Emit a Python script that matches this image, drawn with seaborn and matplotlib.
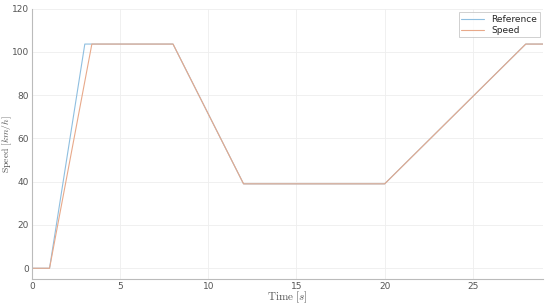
import numpy as np
import pandas as pd
import matplotlib
matplotlib.use("Agg")
import matplotlib.pyplot as plt
import seaborn as sns

# Datos
t_ref = [0, 1, 3.0, 8, 12, 20, 28, 29]
v_ref = [0, 0, 103.6, 103.6, 39, 39, 103.6, 103.6]
t_spd = [0, 1, 3.4, 8, 12, 20, 28, 29]
v_spd = [0, 0, 103.6, 103.6, 39, 39, 103.6, 103.6]

df = pd.concat([
    pd.DataFrame({"t": t_ref, "v": v_ref, "serie": "Reference"}),
    pd.DataFrame({"t": t_spd, "v": v_spd, "serie": "Speed"}),
])

sns.set_style("white")
plt.rcParams["font.family"] = ["DejaVu Sans"]
plt.rcParams["mathtext.fontset"] = "cm"

fig, ax = plt.subplots(figsize=(5.5, 3.06), dpi=100)
sns.lineplot(data=df, x="t", y="v", hue="serie", sort=False, estimator=None,
             palette=["#8fbfe0", "#e8a98a"], linewidth=0.8, ax=ax)

ax.set_xlim(0, 29)
ax.set_ylim(-5, 120)
ax.set_xticks([0, 5, 10, 15, 20, 25])
ax.set_yticks([0, 20, 40, 60, 80, 100, 120])
ax.grid(True, color="#eeeeee", linewidth=0.6)
ax.tick_params(labelsize=6.5, colors="#555555", length=2, direction="in", pad=2)
for s in ["top", "right"]:
    ax.spines[s].set_visible(False)
for s in ["left", "bottom"]:
    ax.spines[s].set_color("#bbbbbb")
    ax.spines[s].set_linewidth(0.8)

ax.set_xlabel(r"$\mathrm{Time}\ [s]$", fontsize=8, color="#555555", labelpad=-1)
ax.set_ylabel(r"$\mathrm{Speed}\ [km/h]$", fontsize=7, color="#555555")
ax.yaxis.set_label_coords(-0.035, 0.5)

leg = ax.legend(loc="upper right", fontsize=6.5, frameon=True, fancybox=False,
                edgecolor="#bbbbbb", handlelength=2.5, borderpad=0.3,
                labelspacing=0.2, borderaxespad=0.4)
leg.get_frame().set_linewidth(0.6)

fig.subplots_adjust(left=0.058, right=0.988, top=0.972, bottom=0.088)
fig.savefig("out.png", dpi=100)
